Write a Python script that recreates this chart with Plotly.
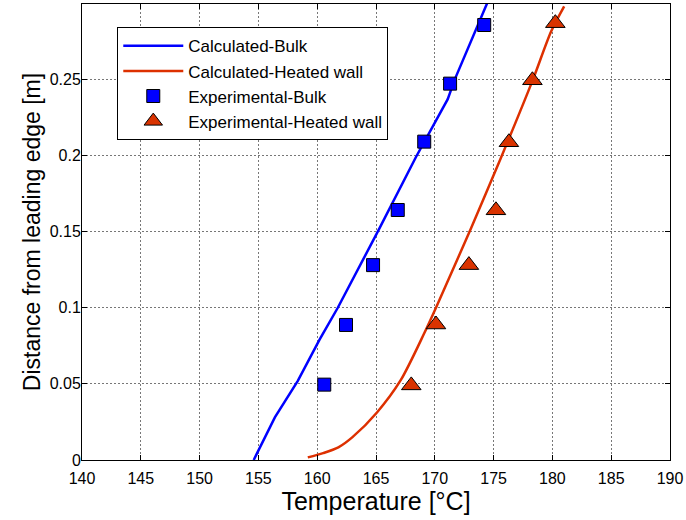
import plotly.graph_objects as go

# Calculated curves (temperature [°C], distance [m])
calc_bulk_T = [154.6, 156.4, 158.35, 160.2, 161.75, 165.15, 168.4, 171.1, 171.7, 173.7, 174.45]
calc_bulk_y = [0.0, 0.028, 0.052, 0.079, 0.100, 0.150, 0.199, 0.237, 0.250, 0.286, 0.300]

calc_wall_T = [159.2, 160.5, 161.8, 163.0, 165.1, 167.1, 169.1, 170.1, 173.1, 175.6, 178.3, 179.9, 181.0]
calc_wall_y = [0.0017, 0.0045, 0.0083, 0.015, 0.0314, 0.0524, 0.0832, 0.100, 0.1526, 0.198, 0.249, 0.2816, 0.298]

# Experimental points
exp_bulk_T = [160.6, 162.45, 164.75, 166.85, 169.1, 171.3, 174.2]
exp_bulk_y = [0.0495, 0.0887, 0.128, 0.1642, 0.2091, 0.2472, 0.2857]

exp_wall_T = [168.0, 170.1, 172.9, 175.2, 176.3, 178.3, 180.25]
exp_wall_y = [0.049, 0.089, 0.128, 0.164, 0.2087, 0.2494, 0.2869]

x_ticks = [140, 145, 150, 155, 160, 165, 170, 175, 180, 185, 190]
y_ticks = [0, 0.05, 0.1, 0.15, 0.2, 0.25]
y_ticktext = ["0", "0.05", "0.1", "0.15", "0.2", "0.25"]

BLUE = "#0000FF"
RED = "#DD3000"
FONT = "Liberation Sans, Arial, sans-serif"

fig = go.Figure()
fig.add_trace(go.Scatter(x=calc_bulk_T, y=calc_bulk_y, mode="lines",
                         name="Calculated-Bulk", line=dict(color=BLUE, width=2.5)))
fig.add_trace(go.Scatter(x=calc_wall_T, y=calc_wall_y, mode="lines",
                         name="Calculated-Heated wall",
                         line=dict(color=RED, width=2.5, shape="spline", smoothing=0.8)))
fig.add_trace(go.Scatter(x=exp_bulk_T, y=exp_bulk_y, mode="markers",
                         name="Experimental-Bulk",
                         marker=dict(symbol="square", size=13, color=BLUE,
                                     line=dict(color="black", width=1))))
fig.add_trace(go.Scatter(x=exp_wall_T, y=exp_wall_y, mode="markers",
                         name="Experimental-Heated wall",
                         marker=dict(symbol="triangle-up", size=17, color="#D93300",
                                     line=dict(color="black", width=1))))

axis_common = dict(
    showline=True, linecolor="black", linewidth=1, mirror="ticks",
    ticks="inside", ticklen=5, tickcolor="black",
    showgrid=True, gridcolor="#777777", griddash="2px,2px", gridwidth=1,
    zeroline=False, automargin=False,
    tickfont=dict(family=FONT, size=16, color="black"),
)

fig.update_xaxes(range=[140, 190], tickvals=x_ticks, ticklabelstandoff=4,
                 title=dict(text="Temperature [°C]",
                            font=dict(family=FONT, size=25, color="black"),
                            standoff=2),
                 **axis_common)
fig.update_yaxes(range=[0, 0.2995], tickvals=y_ticks, ticktext=y_ticktext,
                 ticklabelstandoff=-3,
                 title=dict(text="Distance from leading edge [m]",
                            font=dict(family=FONT, size=23, color="black"),
                            standoff=2),
                 **axis_common)

fig.update_layout(
    width=686, height=520,
    margin=dict(l=82, r=16, t=4, b=60),
    paper_bgcolor="white", plot_bgcolor="white",
    showlegend=True,
    legend=dict(x=0.06, y=0.949, xanchor="left", yanchor="top",
                bgcolor="white", bordercolor="black", borderwidth=1,
                font=dict(family=FONT, size=17, color="black"),
                tracegroupgap=0, itemwidth=60),
)

fig.write_html("out.html", config={"displayModeBar": False},
               post_script="document.body.style.margin='0';document.body.style.padding='0';")
